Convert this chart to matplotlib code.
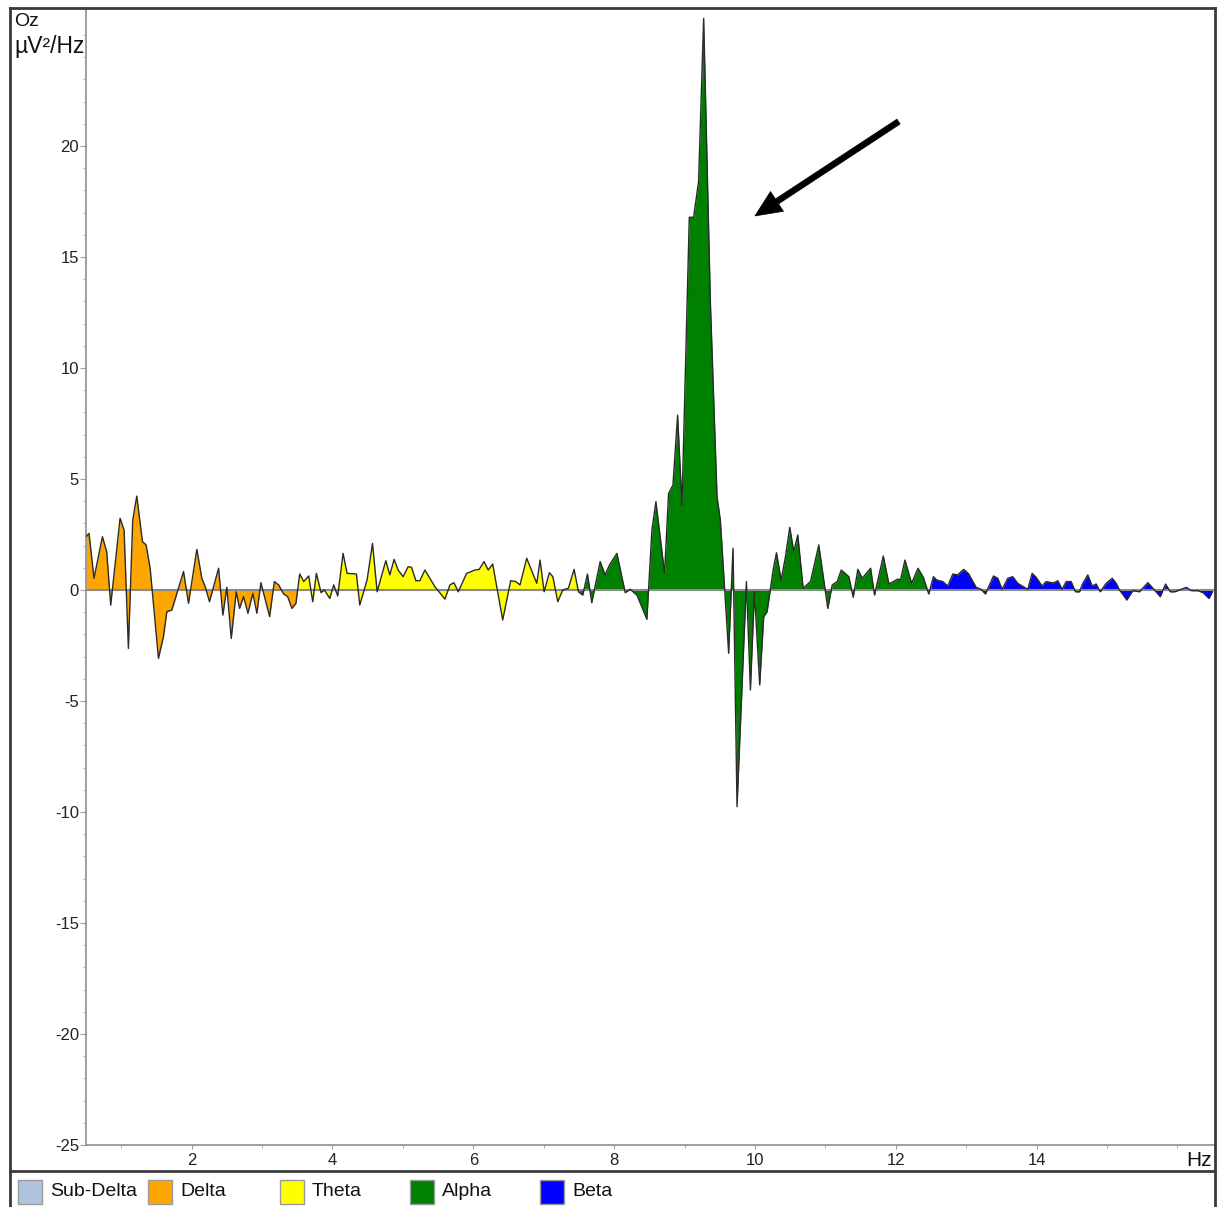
import numpy as np
import matplotlib.pyplot as plt
from matplotlib.patches import Rectangle
from matplotlib.lines import Line2D

plt.rcParams['font.family'] = ['Liberation Sans', 'DejaVu Sans']
plt.rcParams['axes.unicode_minus'] = False

# spectrum difference at channel Oz, split by band (Hz, uV^2/Hz)
delta_hz = [0.50, 0.543, 0.614, 0.733, 0.794, 0.851, 0.984, 1.041, 1.102, 1.164,
            1.221, 1.302, 1.354, 1.411, 1.529, 1.600, 1.648, 1.719, 1.885, 1.956,
            2.074, 2.145, 2.193, 2.254, 2.383, 2.444, 2.500, 2.563, 2.634, 2.681,
            2.738, 2.800, 2.870, 2.927, 2.984, 3.108, 3.175, 3.236, 3.307, 3.364,
            3.425, 3.482]
delta_val = [2.40, 2.55, 0.53, 2.40, 1.73, -0.68, 3.23, 2.70, -2.63, 3.15,
             4.23, 2.18, 2.03, 0.98, -3.08, -2.10, -0.98, -0.90, 0.83, -0.60,
             1.83, 0.53, 0.15, -0.53, 0.98, -1.13, 0.12, -2.18, -0.08, -0.83,
             -0.30, -1.05, -0.15, -1.05, 0.33, -1.20, 0.38, 0.23, -0.18, -0.30,
             -0.83, -0.60]

theta_hz = [3.535, 3.592, 3.663, 3.720, 3.772, 3.838, 3.886, 3.962, 4.018, 4.075,
            4.151, 4.208, 4.341, 4.388, 4.492, 4.569, 4.635, 4.758, 4.815, 4.876,
            4.933, 5.004, 5.075, 5.124, 5.185, 5.242, 5.313, 5.455, 5.597, 5.669,
            5.725, 5.787, 5.906, 6.024, 6.085, 6.152, 6.213, 6.276, 6.418, 6.532,
            6.603, 6.664, 6.759, 6.902, 6.949, 7.006, 7.081, 7.130, 7.200, 7.271,
            7.351, 7.432, 7.494]
theta_val = [0.72, 0.38, 0.63, -0.53, 0.75, -0.12, 0.00, -0.38, 0.23, -0.27,
             1.65, 0.75, 0.72, -0.68, 0.45, 2.10, -0.08, 1.32, 0.68, 1.38,
             0.90, 0.60, 1.05, 1.02, 0.42, 0.42, 0.90, 0.15, -0.41, 0.23,
             0.33, -0.08, 0.75, 0.90, 0.93, 1.28, 0.90, 1.17, -1.35, 0.42,
             0.38, 0.23, 1.43, 0.30, 1.35, -0.08, 0.78, 0.60, -0.53, 0.00,
             0.08, 0.93, -0.08]

alpha_hz = [7.555, 7.622, 7.683, 7.802, 7.873, 7.935, 8.040, 8.158, 8.229, 8.324,
            8.466, 8.537, 8.594, 8.717, 8.774, 8.836, 8.902, 8.964, 9.068, 9.129,
            9.200, 9.272, 9.367, 9.462, 9.509, 9.627, 9.689, 9.746, 9.879, 9.936,
            9.993, 10.068, 10.125, 10.173, 10.259, 10.306, 10.373, 10.434, 10.495, 10.552,
            10.609, 10.685, 10.789, 10.907, 11.035, 11.098, 11.169, 11.226, 11.334, 11.396,
            11.462, 11.524, 11.643, 11.699, 11.823, 11.903, 12.022, 12.070, 12.131, 12.226,
            12.316, 12.392, 12.469]
alpha_val = [-0.23, 0.72, -0.57, 1.28, 0.68, 1.13, 1.65, -0.12, 0.03, -0.23,
             -1.32, 2.70, 3.98, 0.75, 4.35, 4.73, 7.88, 3.83, 16.79, 16.79,
             18.40, 25.75, 13.00, 4.20, 3.15, -2.85, 1.88, -9.76, 0.38, -4.50,
             -0.08, -4.28, -1.20, -0.98, 0.90, 1.68, 0.45, 1.50, 2.82, 1.73,
             2.48, 0.08, 0.38, 2.03, -0.83, 0.23, 0.38, 0.90, 0.60, -0.33,
             0.93, 0.53, 0.98, -0.23, 1.53, 0.27, 0.48, 0.48, 1.35, 0.30,
             0.98, 0.57, -0.18]

beta_hz = [12.535, 12.582, 12.668, 12.739, 12.810, 12.881, 12.929, 12.966, 13.037, 13.142,
           13.213, 13.274, 13.388, 13.449, 13.511, 13.591, 13.662, 13.733, 13.875, 13.937,
           13.994, 14.079, 14.136, 14.207, 14.254, 14.301, 14.364, 14.420, 14.491, 14.553,
           14.610, 14.657, 14.728, 14.790, 14.847, 14.904, 14.989, 15.074, 15.131, 15.178,
           15.282, 15.367, 15.462, 15.581, 15.652, 15.757, 15.832, 15.899, 15.961, 16.056,
           16.127, 16.198, 16.293, 16.364, 16.449, 16.496]
beta_val = [0.60, 0.45, 0.38, 0.18, 0.72, 0.68, 0.83, 0.93, 0.72, 0.12,
            0.03, -0.18, 0.63, 0.53, 0.03, 0.53, 0.60, 0.30, 0.03, 0.75,
            0.57, 0.18, 0.38, 0.33, 0.33, 0.42, 0.03, 0.38, 0.38, -0.08,
            -0.08, 0.30, 0.68, 0.18, 0.27, -0.08, 0.30, 0.53, 0.30, 0.00,
            -0.45, -0.03, -0.08, 0.33, 0.08, -0.30, 0.27, -0.08, -0.08, 0.03,
            0.12, -0.03, -0.03, -0.12, -0.38, -0.08]

band_edges = [(0.5, 3.5), (3.5, 7.5), (7.5, 12.5), (12.5, 16.5)]
band_colors = ['#FFA500', '#FFFF00', '#008000', '#0000FF']

legend_names = ['Sub-Delta', 'Delta', 'Theta', 'Alpha', 'Beta']
legend_colors = ['#B0C4DE', '#FFA500', '#FFFF00', '#008000', '#0000FF']

# arrow pointing at the alpha peak (tail, head)
arrow_tail = (12.04, 21.1)
arrow_head = (10.0, 16.85)

W, H = 1220, 1207


def fx(px):
    return px / W


def fy(py):
    return 1 - py / H


fig = plt.figure(figsize=(W / 100, H / 100), dpi=100)
ax = fig.add_axes([fx(86), fy(1145), (1214 - 86) / W, (1145 - 8) / H])

hz = np.array(delta_hz + theta_hz + alpha_hz + beta_hz)
val = np.array(delta_val + theta_val + alpha_val + beta_val)

for (lo, hi), color in zip(band_edges, band_colors):
    inside = (hz > lo) & (hz < hi)
    x = np.concatenate([[lo], hz[inside], [hi]])
    y = np.concatenate([[np.interp(lo, hz, val)], val[inside], [np.interp(hi, hz, val)]])
    ax.fill_between(x, y, 0, color=color, lw=0, interpolate=True)

ax.axhline(0, color='#8a8a8a', lw=1.5, zorder=3)
ax.plot(hz, val, color='#2a2a2a', lw=1.0, zorder=4)

ax.annotate('', xy=arrow_head, xytext=arrow_tail,
            arrowprops=dict(width=4.2, headwidth=17, headlength=19,
                            facecolor='black', edgecolor='black', lw=0.5,
                            shrink=0))

ax.set_xlim(0.5, 16.52)
ax.set_ylim(-25, (590 - 8) / 22.2)
ax.set_xticks(range(2, 15, 2))
ax.set_xticks(range(1, 17), minor=True)
ax.set_yticks(range(-25, 21, 5))
ax.set_yticks(range(-25, 26), minor=True)

for side in ['top', 'right']:
    ax.spines[side].set_visible(False)
for side in ['left', 'bottom']:
    ax.spines[side].set_color('#8f8f8f')
    ax.spines[side].set_linewidth(1.2)

ax.tick_params(which='both', color='#a0a0a0', labelsize=12, labelcolor='#222222')
ax.tick_params(axis='y', which='major', length=4, pad=1)
ax.tick_params(axis='y', which='minor', length=2)
ax.tick_params(axis='x', which='major', length=3, pad=3)
ax.tick_params(axis='x', which='minor', length=2)

fig.text(fx(1212), fy(1160), 'Hz', ha='right', va='center', fontsize=15, color='#111111')
fig.text(fx(14), fy(22), 'Oz', ha='left', va='center', fontsize=14, color='#111111')
fig.text(fx(14), fy(47), 'µV²/Hz', ha='left', va='center', fontsize=16.5, color='#111111')

# outer frame and divider above the legend
frame = dict(color='#3a3a3a', lw=2, transform=fig.transFigure)
fig.add_artist(Line2D([fx(10), fx(10)], [fy(8), fy(1207)], **frame))
fig.add_artist(Line2D([fx(10), fx(1215)], [fy(8), fy(8)], **frame))
fig.add_artist(Line2D([fx(1215), fx(1215)], [fy(8), fy(1207)], **frame))
fig.add_artist(Line2D([fx(10), fx(1215)], [fy(1171), fy(1171)], **frame))

legend_x = [18, 148, 280, 410, 540]
for x0, name, color in zip(legend_x, legend_names, legend_colors):
    fig.add_artist(Rectangle((fx(x0), fy(1204)), 24 / W, 24 / H, facecolor=color,
                             edgecolor='#9a9a9a', lw=1, transform=fig.transFigure))
    fig.text(fx(x0 + 32), fy(1192), name, ha='left', va='center', fontsize=14, color='#111111')

fig.savefig('out.png', dpi=100)
